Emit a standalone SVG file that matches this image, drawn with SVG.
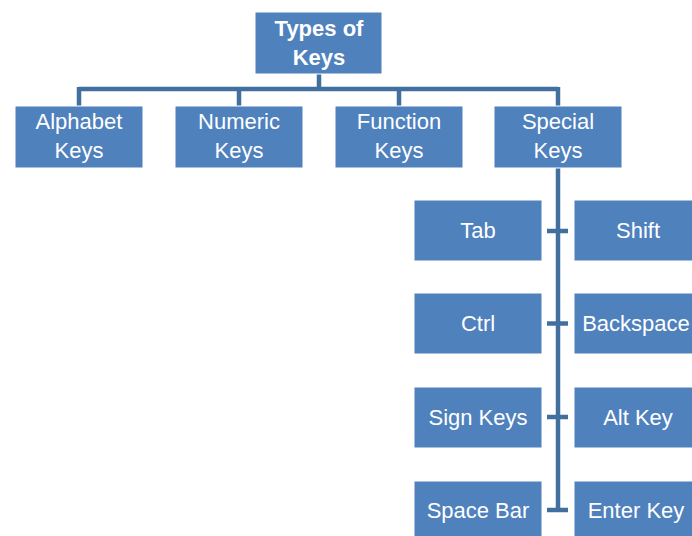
<svg xmlns="http://www.w3.org/2000/svg" width="692" height="536" viewBox="0 0 692 536">
<style>
.box{fill:#4F81BD;stroke:#ffffff;stroke-width:1}
.t{font-family:"Liberation Sans",Arial,sans-serif;font-size:22px;fill:#ffffff;text-anchor:middle}
.b{font-weight:bold}
.c{stroke:#41709F;stroke-width:4.5;fill:none}
</style>
<rect width="692" height="536" fill="#ffffff"/>
<g id="connectors">
<path class="c" d="M319,74 V89 M79,89 H558 M79,87 V106 M239,87 V106 M399,87 V106 M558,87 V106"/>
<path class="c" d="M558,168 V510 M547,231 H568 M547,323.5 H568 M547,417 H568 M547,510 H568"/>
</g>
<g id="types"><rect class="box" x="255" y="12" width="127" height="62"/><text class="t b" x="319" y="36">Types of</text><text class="t b" x="319" y="65">Keys</text></g>
<g id="alphabet"><rect class="box" x="15" y="106" width="128" height="62"/><text class="t" x="79" y="129">Alphabet</text><text class="t" x="79" y="158">Keys</text></g>
<g id="numeric"><rect class="box" x="175" y="106" width="128" height="62"/><text class="t" x="239" y="129">Numeric</text><text class="t" x="239" y="158">Keys</text></g>
<g id="function"><rect class="box" x="335" y="106" width="128" height="62"/><text class="t" x="399" y="129">Function</text><text class="t" x="399" y="158">Keys</text></g>
<g id="special"><rect class="box" x="494" y="106" width="128" height="62"/><text class="t" x="558" y="129">Special</text><text class="t" x="558" y="158">Keys</text></g>
<g id="tab"><rect class="box" x="414" y="200" width="128" height="61"/><text class="t" x="478" y="238">Tab</text></g>
<g id="shift"><rect class="box" x="574" y="200" width="128" height="61"/><text class="t" x="638" y="238">Shift</text></g>
<g id="ctrl"><rect class="box" x="414" y="293" width="128" height="61"/><text class="t" x="478" y="331">Ctrl</text></g>
<g id="backspace"><rect class="box" x="574" y="293" width="128" height="61"/><text class="t" x="636" y="331">Backspace</text></g>
<g id="sign"><rect class="box" x="414" y="387" width="128" height="61"/><text class="t" x="478" y="425">Sign Keys</text></g>
<g id="alt"><rect class="box" x="574" y="387" width="128" height="61"/><text class="t" x="638" y="425">Alt Key</text></g>
<g id="space"><rect class="box" x="414" y="481" width="128" height="61"/><text class="t" x="478" y="518">Space Bar</text></g>
<g id="enter"><rect class="box" x="574" y="481" width="128" height="61"/><text class="t" x="636" y="518">Enter Key</text></g>
</svg>
